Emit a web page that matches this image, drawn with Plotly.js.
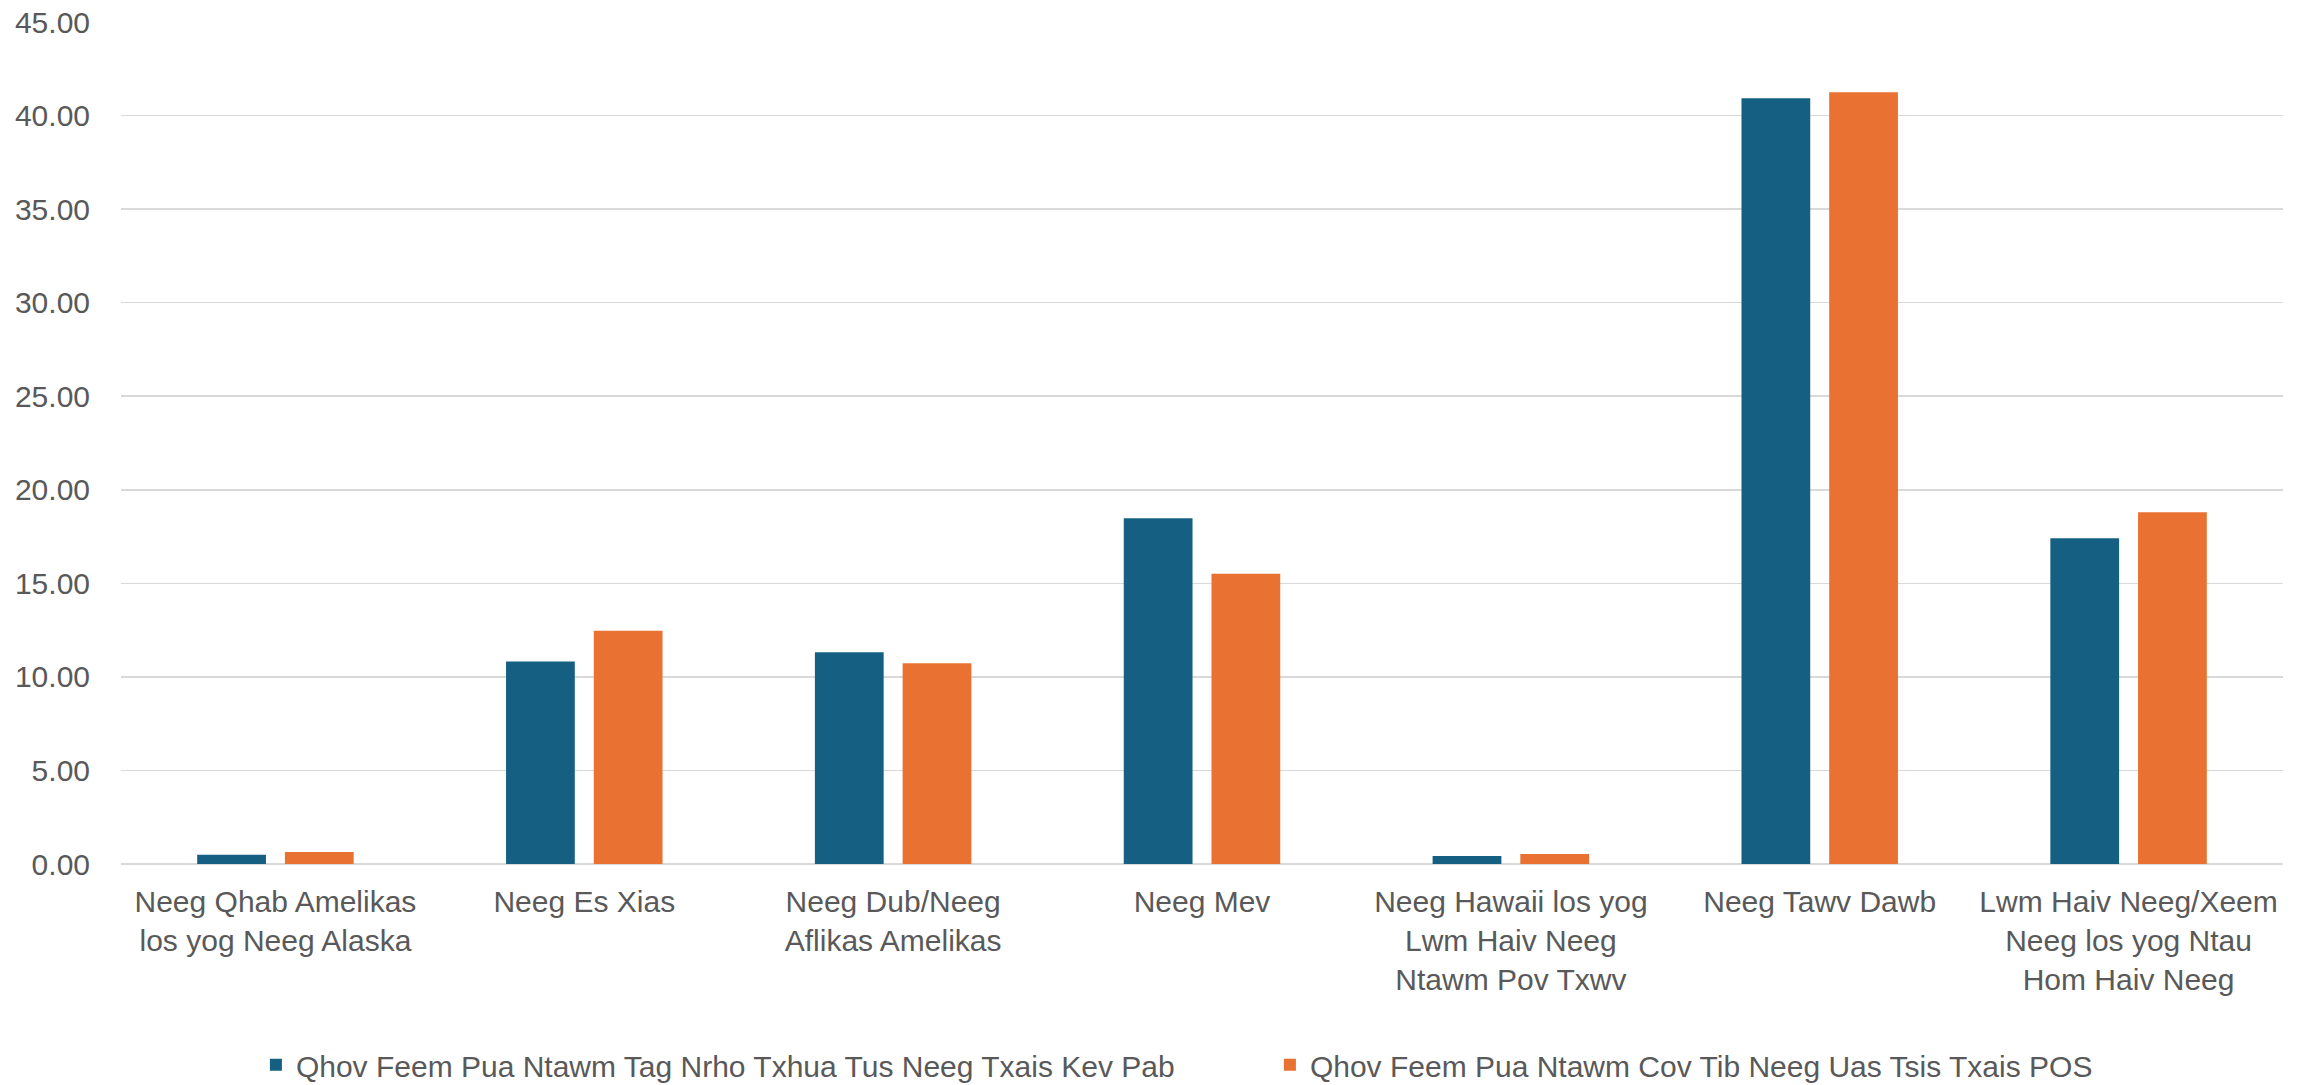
<!DOCTYPE html>
<html>
<head>
<meta charset="utf-8">
<script src="https://cdn.plot.ly/plotly-3.0.1.min.js"></script>
<style>html,body{margin:0;padding:0;background:#fff;}#chart{width:2312px;height:1085px;}</style>
</head>
<body>
<div id="chart"></div>
<script>
const categories = [
  "Neeg Qhab Amelikas<br>los yog Neeg Alaska",
  "Neeg Es Xias",
  "Neeg Dub/Neeg<br>Aflikas Amelikas",
  "Neeg Mev",
  "Neeg Hawaii los yog<br>Lwm Haiv Neeg<br>Ntawm Pov Txwv",
  "Neeg Tawv Dawb",
  "Lwm Haiv Neeg/Xeem<br>Neeg los yog Ntau<br>Hom Haiv Neeg"
];
const seriesNames = [
  "Qhov Feem Pua Ntawm Tag Nrho Txhua Tus Neeg Txais Kev Pab",
  "Qhov Feem Pua Ntawm Cov Tib Neeg Uas Tsis Txais POS"
];
const seriesAll = [0.50, 10.82, 11.32, 18.48, 0.43, 40.92, 17.41];
const seriesNotPOS = [0.64, 12.46, 10.73, 15.51, 0.53, 41.25, 18.80];
const yTickVals = [0, 5, 10, 15, 20, 25, 30, 35, 40, 45];
const yTickText = ["0.00", "5.00", "10.00", "15.00", "20.00", "25.00", "30.00", "35.00", "40.00", "45.00"];

const font = {family: "Liberation Sans, Arial, sans-serif", size: 30, color: "#595959"};

const data = [
  {type: "bar", x: categories, y: seriesAll, name: seriesNames[0],
   marker: {color: "#156082", line: {width: 0}}, hoverinfo: "skip"},
  {type: "bar", x: categories, y: seriesNotPOS, name: seriesNames[1],
   marker: {color: "#E97132", line: {width: 0}}, hoverinfo: "skip"}
];

const layout = {
  width: 2312, height: 1085,
  margin: {l: 121, r: 29, t: 22, b: 221, pad: 0, autoexpand: false},
  paper_bgcolor: "#ffffff", plot_bgcolor: "#ffffff",
  font: font,
  barmode: "group",
  bargap: 0.432,
  bargroupgap: 0.216,
  showlegend: true,
  legend: {
    orientation: "h",
    x: 0.0624, xanchor: "left",
    y: -0.2385, yanchor: "middle",
    font: font,
    entrywidth: 969, entrywidthmode: "pixels",
    bgcolor: "rgba(0,0,0,0)"
  },
  xaxis: {
    type: "category",
    tickfont: font,
    showgrid: false,
    showline: false,
    zeroline: false,
    ticks: "",
    ticklabelstandoff: 17,
    automargin: false
  },
  yaxis: {
    range: [0, 45],
    tickvals: yTickVals,
    ticktext: yTickText,
    tickfont: font,
    showgrid: true,
    gridcolor: "#d9d9d9",
    gridwidth: 1.5,
    zeroline: true,
    zerolinecolor: "#d9d9d9",
    zerolinewidth: 2,
    showline: false,
    ticks: "",
    ticklabelstandoff: 30,
    automargin: false
  }
};

Plotly.newPlot("chart", data, layout, {displayModeBar: false, staticPlot: true});
</script>
</body>
</html>
